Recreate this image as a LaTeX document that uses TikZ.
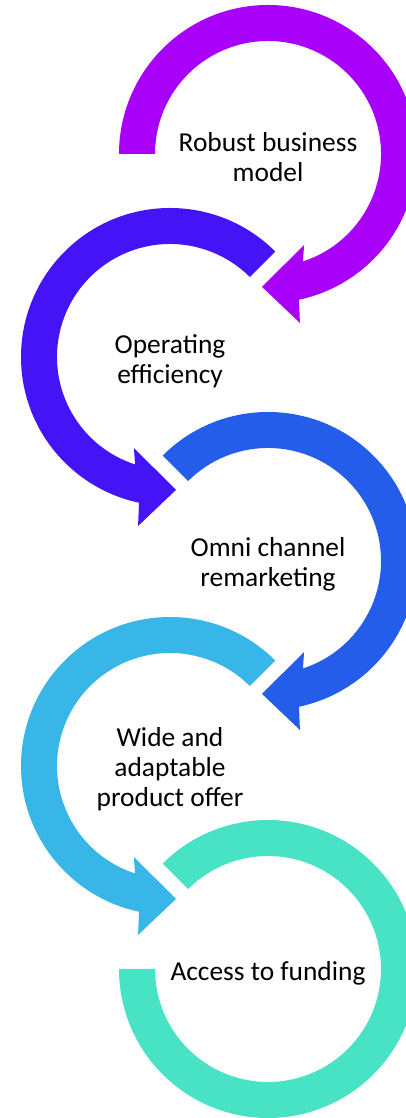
\documentclass[tikz,border=0pt]{standalone}
\usepackage{fontspec}
\setmainfont{Carlito}
\definecolor{cpurple}{HTML}{A900FA}
\definecolor{cviolet}{HTML}{4414F6}
\definecolor{cblue}{HTML}{245DE9}
\definecolor{clight}{HTML}{38B6E7}
\definecolor{cteal}{HTML}{48E2C5}
\newcommand\rightarc[3]{%
  \fill[#3, shift={#1}] (#2:149) arc[start angle=#2, end angle=-78, radius=149]
    -- (-79.3:172) -- (-92.6:133) -- (-68.4:98) -- (-72:113)
    arc[start angle=-72, end angle=#2, radius=113] -- cycle;}
\newcommand\leftarc[3]{%
  \fill[#3, shift={#1}] (#2:149) arc[start angle=#2, end angle=258, radius=149]
    -- (259.3:172) -- (272.6:133) -- (248.4:98) -- (252:113)
    arc[start angle=252, end angle=#2, radius=113] -- cycle;}
\begin{document}
\begin{tikzpicture}[x=1pt,y=1pt,
  lbl/.style={align=center, text=black, inner sep=0pt,
    font=\fontsize{27.4}{30}\selectfont}]
\useasboundingbox (0,0) rectangle (406,1118);
\clip (0,0) rectangle (406,1118);
\fill[white] (0,0) rectangle (406,1118);
\rightarc{(268,964)}{180}{cpurple}
\leftarc{(170,761)}{45}{cviolet}
\rightarc{(268,557)}{135}{cblue}
\leftarc{(170,352)}{45}{clight}
\fill[cteal, shift={(268,149)}] (180:149) arc[start angle=180, end angle=495, radius=149]
  -- (495:113) arc[start angle=495, end angle=180, radius=113] -- cycle;
\node[lbl] (t1) at (268,961) {Robust business\\model};
\node[lbl] (t2) at (170,757) {Operating\\efficiency};
\node[lbl] (t3) at (268,554) {Omni channel\\remarketing};
\node[lbl] (t4) at (170,349) {Wide and\\adaptable\\product offer};
\node[lbl] (t5) at (268,145) {Access to funding};
\end{tikzpicture}
\end{document}
